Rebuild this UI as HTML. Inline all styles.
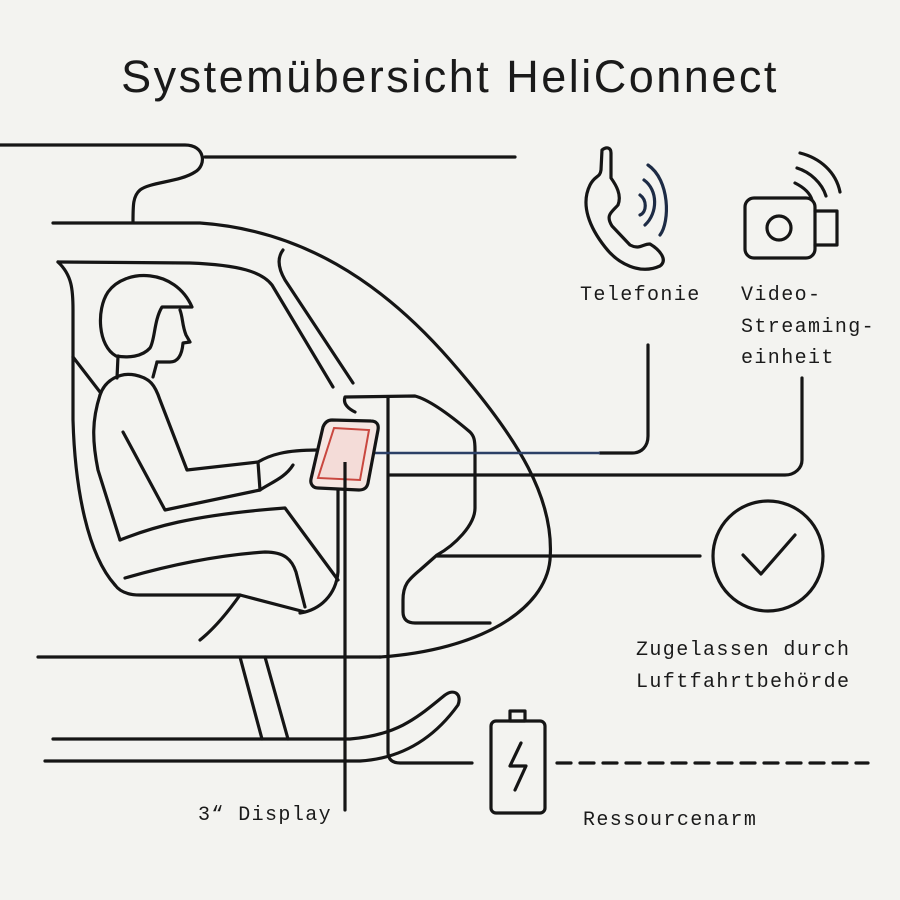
<!DOCTYPE html>
<html><head><meta charset="utf-8"><style>
html,body{margin:0;padding:0;background:#f3f3f0;}
svg{display:block}
text{font-family:"Liberation Sans",sans-serif;fill:#1a1a1a}
.lb{font-family:"Liberation Mono",monospace;font-size:20px;letter-spacing:1.4px}
</style></head><body>
<svg width="900" height="900" viewBox="0 0 900 900" xmlns="http://www.w3.org/2000/svg">
<rect width="900" height="900" fill="#f3f3f0"/>
<text x="450" y="92" font-size="45" text-anchor="middle" letter-spacing="2.5">Systemübersicht HeliConnect</text>

<g fill="none" stroke="#151515" stroke-width="3.2" stroke-linecap="round" stroke-linejoin="round">
<!-- rotor -->
<path d="M0,145 L185,145 C205,145 207,165 195,172 C180,182 150,182 140,190 C133,196 133,205 133,222"/>
<path d="M205,157 L515,157"/>
<!-- fuselage outer -->
<path d="M53,223 L200,223 C300,230 380,280 450,360 C520,440 555,500 550,560 C545,610 480,650 380,657"/>
<path d="M38,657 L380,657"/>
<!-- windscreen inner -->
<path d="M58,262 L190,263 C240,265 262,272 272,285 L333,387"/>
<path d="M283,250 C277,258 278,268 285,280 L353,383"/>
<!-- left pillar -->
<path d="M58,262 C72,275 73,290 73,310 L73,420 C75,490 88,555 115,585"/>
<path d="M73,357 L100,392"/>
<!-- skids -->
<path d="M53,739 L350,739 C400,735 420,715 445,695 C455,688 462,695 458,705 C440,730 410,758 360,761 L45,761"/>
<path d="M240,657 L262,739"/>
<path d="M265,657 L288,739"/>
<!-- person helmet -->
<path d="M116,356 C98,346 96,310 108,292 C125,268 175,268 192,307 L162,307 C154,320 155,340 150,348 C142,357 128,358 116,356"/>
<path d="M180,310 C183,318 182,325 186,335 L190,342 L183,343 C182,355 178,362 170,362 L157,362"/>
<path d="M118,356 L117,378"/>
<path d="M157,362 L153,377"/>
<!-- torso / arm -->
<path d="M100,395 C105,380 120,372 135,375 C150,378 155,385 160,400 L187,470 L258,462 C270,455 285,450 317,450"/>
<path d="M258,462 L260,490 L165,510 L123,432"/>
<path d="M260,490 C270,483 285,478 293,465"/>
<path d="M100,395 C92,420 92,440 98,470 L120,540"/>
<!-- legs -->
<path d="M120,540 C150,528 190,515 285,508 L338,580"/>
<path d="M125,578 C170,565 220,555 265,552 C285,552 292,560 296,572 L305,607"/>
<!-- seat -->
<path d="M115,585 C120,592 128,595 140,595 L240,595 C228,612 215,628 200,640"/>
<path d="M240,595 L305,612"/>
<path d="M338,490 L338,572 C336,595 320,610 300,613"/>
<!-- door frame -->
<path d="M355,412 C347,408 343,403 345,397 L415,396 C430,400 450,415 470,432 C474,436 475,440 475,450 L475,508 C475,525 455,545 437,555 L420,570 C408,580 403,585 403,600 L403,612 C403,620 408,623 415,623 L490,623"/>
<path d="M437,556 L700,556"/>
<!-- vertical connectors -->
<path d="M345,460 L345,810"/>
<path d="M388,397 L388,752 C388,760 393,763 400,763 L472,763"/>
<!-- connectors -->
<path d="M390,475 L785,475 C795,475 802,468 802,460 L802,378"/>
<path d="M600,453 L632,453 C642,453 648,446 648,436 L648,345"/>
<!-- check -->
<circle cx="768" cy="556" r="55"/>
<path d="M743,555 L761,574 L795,535"/>
<!-- battery -->
<rect x="491" y="721" width="54" height="92" rx="5"/>
<rect x="510" y="711" width="15" height="10"/>
<path d="M521,743 L510,766 L526,766 L515,790"/>
<path d="M557,763 L868,763" stroke-dasharray="14 9"/>
<!-- phone icon -->
<path d="M602,150 C607,146 611,148 611,153 L611,178 C616,185 622,195 618,205 C612,212 605,215 612,226 L630,245 C640,250 642,244 650,244 C660,250 668,260 660,266 C640,275 618,264 605,247 C590,228 580,205 590,185 C595,175 600,178 601,170 Z"/>
<path d="M640,195 C647,200 647,212 640,215" stroke="#1d2b45"/>
<path d="M644,180 C658,190 658,213 645,225" stroke="#1d2b45"/>
<path d="M648,165 C670,180 670,222 660,235" stroke="#1d2b45"/>
<!-- camera icon -->
<rect x="745" y="198" width="70" height="60" rx="9"/>
<circle cx="779" cy="228" r="12"/>
<path d="M815,211 L837,211 L837,245 L815,245"/>
<path d="M795,183 C803,187 810,193 812,200"/>
<path d="M797,168 C810,172 822,183 826,196"/>
<path d="M800,153 C820,158 836,172 840,192"/>
</g>
<!-- blue line -->
<path d="M373,453 L600,453" stroke="#2b3f66" stroke-width="2.6" fill="none"/>
<!-- display -->
<path d="M332,420 L371,421 C377,421 379,425 378,430 L368,483 C367,488 364,490 359,490 L318,488 C313,488 310,484 311,479 L323,427 C325,422 328,420 332,420 Z" fill="#f5e6e2" stroke="#151515" stroke-width="3.2"/>
<path d="M334,428 L369,430 L360,480 L318,478 Z" fill="#f4dcd8" stroke="#c9473f" stroke-width="2"/>
<path d="M345,462 L345,490" stroke="#151515" stroke-width="3.2"/>

<g class="lb">
<text class="lb" x="580" y="300">Telefonie</text>
<text class="lb" x="741" y="300">Video-</text>
<text class="lb" x="741" y="332">Streaming-</text>
<text class="lb" x="741" y="363">einheit</text>
<text class="lb" x="636" y="655">Zugelassen durch</text>
<text class="lb" x="636" y="687">Luftfahrtbehörde</text>
<text class="lb" x="198" y="820">3“ Display</text>
<text class="lb" x="583" y="825">Ressourcenarm</text>
</g>
</svg>
</body></html>
